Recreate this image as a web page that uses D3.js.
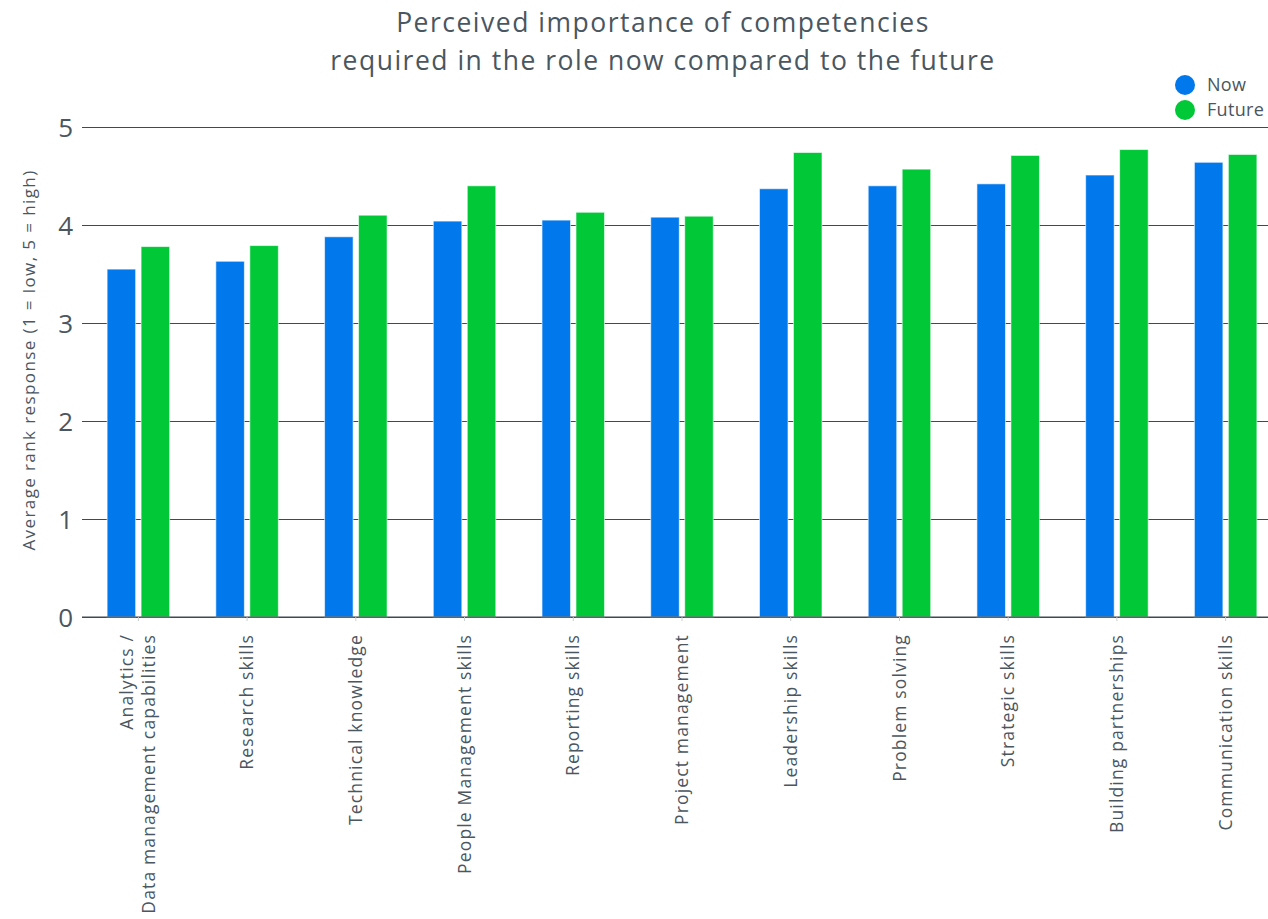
<!DOCTYPE html>
<html>
<head>
<meta charset="utf-8">
<script src="https://cdn.jsdelivr.net/npm/d3@7"></script>
<style>
  html, body { margin: 0; padding: 0; background: #fff; overflow: hidden; }
  svg { display: block; font-family: "Open Sans", "Lato", sans-serif; }
</style>
</head>
<body>
<svg id="chart" width="1268" height="919"></svg>
<script>
// Competencies, in display order
const categories = [
  "Analytics /\nData management capabilities",
  "Research skills",
  "Technical knowledge",
  "People Management skills",
  "Reporting skills",
  "Project management",
  "Leadership skills",
  "Problem solving",
  "Strategic skills",
  "Building partnerships",
  "Communication skills"
];
const seriesNames = ["Now", "Future"];
const nowValues    = [3.55, 3.63, 3.88, 4.04, 4.05, 4.08, 4.37, 4.40, 4.42, 4.51, 4.64];
const futureValues = [3.78, 3.79, 4.10, 4.40, 4.13, 4.09, 4.74, 4.57, 4.71, 4.77, 4.72];
const yTicks = [0, 1, 2, 3, 4, 5];

const colors = { Now: "#0278ED", Future: "#00C837" };
const textColor = "#4A5660";

const svg = d3.select("#chart");
const plot = { left: 84, right: 1280, top: 127, bottom: 617 };

const rows = categories.map((c, i) => ({ cat: c, Now: nowValues[i], Future: futureValues[i] }));

const x0 = d3.scaleBand().domain(categories).range([plot.left, plot.right]).paddingInner(0).paddingOuter(0);
const x1 = d3.scaleBand().domain(seriesNames).range([0, x0.bandwidth()]).paddingInner(0.16).paddingOuter(0.68);
const y = d3.scaleLinear().domain([0, 5]).range([plot.bottom, plot.top]);

// Title
const title = svg.append("text")
  .attr("text-anchor", "middle")
  .attr("fill", textColor).style("font-size", "26.5px").style("letter-spacing", "1.5px");
title.append("tspan").attr("x", 663).attr("y", 32).text("Perceived importance of competencies");
title.append("tspan").attr("x", 663).attr("y", 70).text("required in the role now compared to the future");

// Horizontal grid lines with short ticks on the left
const yAxis = d3.axisLeft(y).tickValues(yTicks).tickFormat(d3.format("d"))
  .tickSize(-(plot.right - plot.left) - 2).tickPadding(10);
const gy = svg.append("g").attr("transform", `translate(${plot.left - 2},0)`).call(yAxis)
  .attr("font-family", null).attr("font-size", null);
gy.select(".domain").remove();
gy.selectAll(".tick line").attr("stroke", "#3E4A52").attr("stroke-width", 1.2);
gy.selectAll(".tick text").attr("fill", textColor).style("font-size", "26px")
  .attr("x", -9).attr("dy", "0.35em");

// Y axis title
svg.append("text")
  .attr("transform", "translate(35,360) rotate(-90)")
  .attr("text-anchor", "middle").attr("fill", textColor)
  .style("font-size", "17px").style("letter-spacing", "1.4px")
  .text("Average rank response (1 = low, 5 = high)");

// Bars
const groups = svg.append("g").selectAll("g").data(rows).join("g")
  .attr("transform", d => `translate(${x0(d.cat)},0)`);
groups.selectAll("rect")
  .data(d => seriesNames.map(s => ({ s, v: d[s] })))
  .join("rect")
  .attr("x", d => x1(d.s))
  .attr("width", x1.bandwidth())
  .attr("y", d => y(d.v))
  .attr("height", d => y(0) - y(d.v))
  .attr("fill", d => colors[d.s])
  .attr("stroke", "#ffffff").attr("stroke-opacity", 0.6).attr("stroke-width", 1);

// Baseline
svg.append("line")
  .attr("x1", plot.left - 2).attr("x2", 1268)
  .attr("y1", y(0)).attr("y2", y(0))
  .attr("stroke", "#3E4A52").attr("stroke-width", 1.2);

// Category axis (labels rotated)
const xAxis = d3.axisBottom(x0).tickSize(4).tickSizeOuter(0);
const gx = svg.append("g").attr("transform", `translate(0,${plot.bottom})`).call(xAxis)
  .attr("font-family", null).attr("font-size", null);
gx.select(".domain").remove();
gx.selectAll(".tick line").attr("stroke", "#C8CDD0");
gx.selectAll(".tick text").remove();
const lineH = 22;
gx.selectAll(".tick").each(function(d) {
  const lines = d.split("\n");
  const t = d3.select(this).append("text")
    .attr("transform", "rotate(-90)")
    .attr("text-anchor", "end")
    .attr("fill", textColor)
    .style("font-size", "17.5px").style("letter-spacing", "1.15px");
  lines.forEach((ln, i) => {
    t.append("tspan")
      .attr("x", -17)
      .attr("y", (i - (lines.length - 1) / 2) * lineH)
      .attr("dy", "0.35em")
      .text(ln);
  });
});

// Legend
const legend = svg.append("g").attr("transform", "translate(1185,85)");
seriesNames.forEach((s, i) => {
  const g = legend.append("g").attr("transform", `translate(0,${i * 25})`);
  g.append("circle").attr("r", 10).attr("fill", colors[s]);
  g.append("text").attr("x", 22).attr("dy", "0.35em")
    .attr("fill", textColor).style("font-size", "18px").style("letter-spacing", "0.3px").text(s);
});
</script>
</body>
</html>
